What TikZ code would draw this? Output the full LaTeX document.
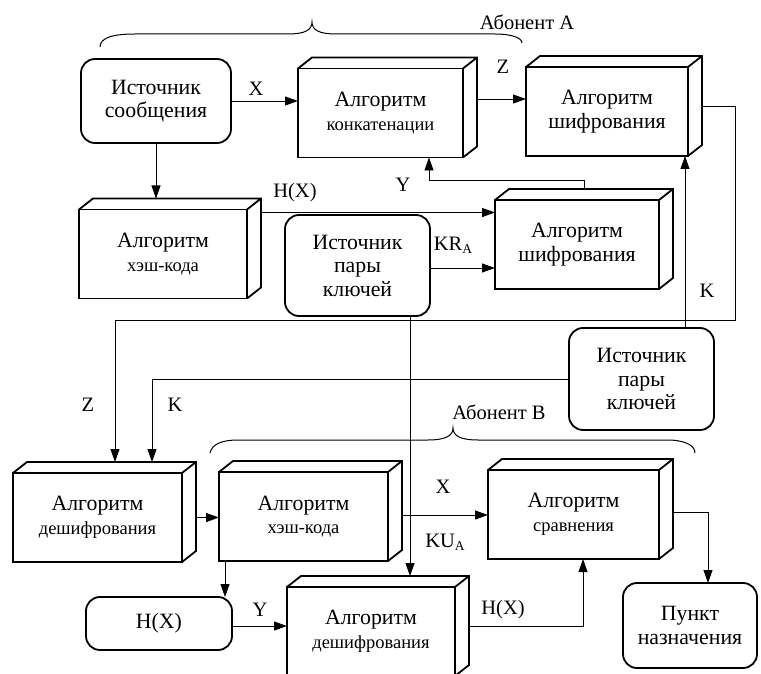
\documentclass[tikz,border=0pt]{standalone}
\usepackage{fontspec}
\setmainfont{Liberation Serif}
\usetikzlibrary{arrows.meta,calc}

\newcommand\boxfont{\fontsize{21.8}{23.5}\selectfont}
\newcommand\subfont{\fontsize{18.5}{21}\selectfont}
\newcommand\labfont{\fontsize{20.5}{22}\selectfont}
\newcommand\lowA{\raisebox{-0.35ex}{\fontsize{13.5}{13.5}\selectfont A}}

\def\dx{14}
\def\dy{11}

\tikzset{
  x=1pt, y=1pt,
  cube/.style={draw, line width=1.8pt, outer sep=0pt, inner sep=2pt,
    align=center, minimum height=89pt, font=\boxfont},
  face/.style={line width=1.8pt, line join=miter},
  rbox/.style={draw, line width=1.8pt, rounded corners=14pt, outer sep=0pt,
    inner sep=2pt, align=center, font=\boxfont},
  conn/.style={line width=0.9pt},
  arr/.style={conn, -{Triangle[length=13pt,width=9pt]}},
  lbl/.style={font=\labfont, inner sep=0pt},
  bracepath/.style={line width=1pt}
}

\begin{document}
\begin{tikzpicture}
\useasboundingbox (0,0) rectangle (761,-674);
\clip (0,0) rectangle (761,-674);

% --- blocks of subscriber A ---
\node[rbox, minimum width=150, minimum height=84] (src) at (156,-101) {Источник\\сообщения};
\node[cube, minimum width=165] (concat) at (380.5,-113) {Алгоритм\\\subfont конкатенации};
\node[cube, minimum width=162] (encA) at (607,-111.5) {Алгоритм\\шифрования};
\node[cube, minimum width=168] (hashA) at (163,-254) {Алгоритм\\\subfont хэш-кода};
\node[rbox, minimum width=145, minimum height=101] (keyA) at (357.5,-265.5) {Источник\\пары\\ключей};
\node[cube, minimum width=164] (encB) at (577,-244.5) {Алгоритм\\шифрования};
\node[rbox, minimum width=145, minimum height=102] (keyB) at (641.5,-379) {Источник\\пары\\ключей};

% --- blocks of subscriber B ---
\node[cube, minimum width=169] (decA) at (97.5,-517.5) {Алгоритм\\\subfont дешифрования};
\node[cube, minimum width=169] (hashB) at (303.5,-516.5) {Алгоритм\\\subfont хэш-кода};
\node[cube, minimum width=171] (cmp) at (573.5,-514.5) {Алгоритм\\\subfont сравнения};
\node[rbox, minimum width=146, minimum height=53] (hx) at (159,-623.5) {H(X)};
\node[cube, minimum width=168] (decB) at (371,-631.5) {Алгоритм\\\subfont дешифрования};
\node[rbox, minimum width=134, minimum height=85] (dest) at (690,-625.5) {Пункт\\назначения};

% top and side faces of the box-shaped blocks
\foreach \n in {concat,encA,hashA,encB,decA,hashB,cmp,decB}
  \draw[face] (\n.north west) -- ++(\dx,\dy) -- ($(\n.north east)+(\dx,\dy)$)
    -- ($(\n.south east)+(\dx,\dy)$) -- (\n.south east)
    (\n.north east) -- ++(\dx,\dy);

% tops of the back faces (arrow targets)
\coordinate (hashAtop) at ($(hashA.north)+(0,\dy)$);
\coordinate (decAtop) at ($(decA.north)+(0,\dy)$);
\coordinate (decBtop) at ($(decB.north)+(0,\dy)$);

% --- connectors, subscriber A ---
\draw[arr] (src.east) -- (src.east -| concat.west);
\node[lbl] (lx1) at (256,-89) {X};

\coordinate (z0) at ($(concat.east)+(\dx,14)$);
\draw[arr] (z0) -- (z0 -| encA.west);
\node[lbl] (lz1) at (503,-67) {Z};

\draw[arr] (src.south) -- (src.south |- hashAtop);

\coordinate (h0) at ($(hashA.north east)+(\dx,-3)$);
\draw[arr] (h0) -- (h0 -| encB.west);
\node[lbl] (lh1) at (295,-193) {H(X)};

\coordinate (kr0) at ($(keyA.east)+(0,-2.5)$);
\draw[arr] (kr0) -- (kr0 -| encB.west);
\node[lbl] (lkr) at (453,-245) {KR\lowA};

\coordinate (y0) at ($(encB.north)+(7,\dy)$);
\coordinate (ytip) at ($(concat.south)+(48.5,0)$);
\draw[arr] (y0) -- ++(0,9) -| (ytip);
\node[lbl] (ly1) at (403,-185) {Y};

\coordinate (k0) at ($(keyB.north)+(43.5,0)$);
\draw[arr] (k0) -- (k0 |- encA.south);
\node[lbl] (lk1) at (707,-291) {K};

% ciphertext Z to subscriber B
\coordinate (z1) at ($(encA.east)+(\dx,5.5)$);
\coordinate (zr) at (735,-320);
\coordinate (zl) at (115,-320);
\draw[arr] (z1) -- (z1 -| zr) -- (zr) -- (zl) -- (zl |- decAtop);
\node[lbl] (lz2) at (88,-405) {Z};

% key K to subscriber B
\coordinate (kx) at (152,-379);
\draw[arr] (keyB.west) -- (keyB.west -| kx) -- (kx |- decAtop);
\node[lbl] (lk2) at (175,-405) {K};

% public key KU_A
\coordinate (u0) at ($(keyA.south)+(52.5,0)$);
\draw[arr] (u0) -- (u0 |- decBtop);
\node[lbl] (lku) at (445,-542) {KU\lowA};

% --- connectors, subscriber B ---
\coordinate (d0) at ($(decA.east)+(\dx,0)$);
\draw[arr] (d0) -- (d0 -| hashB.west);

\coordinate (x0) at ($(hashB.east)+(\dx,1.5)$);
\draw[arr] (x0) -- (x0 -| cmp.west);
\node[lbl] (lx2) at (443,-487) {X};

\coordinate (c0) at ($(cmp.east)+(\dx,2.5)$);
\draw[arr] (c0) -| ($(dest.north)+(18,0)$);

\coordinate (b0) at ($(hashB.south west)+(6,0)$);
\draw[arr] (b0) -- (b0 |- hx.north);

\coordinate (hy0) at ($(hx.east)+(0,-2.5)$);
\draw[arr] (hy0) -- (hy0 -| decB.west);
\node[lbl] (ly2) at (260,-610) {Y};

\coordinate (e0) at ($(decB.east)+(\dx,5.5)$);
\draw[arr] (e0) -| ($(cmp.south)+(9.5,0)$);
\node[lbl] (lh2) at (503,-610) {H(X)};

% --- braces ---
\draw[bracepath] (100,-47) .. controls (100,-37) and (115,-34) .. (135,-34)
  -- (288,-34) .. controls (305,-34) and (312,-30) .. (312,-22)
  .. controls (312,-30) and (319,-34) .. (336,-34)
  -- (495,-34) .. controls (512,-34) and (522,-38) .. (522,-43);
\node[lbl] (abA) at (527,-22) {Абонент А};

\draw[bracepath] (210,-453) .. controls (212,-444) and (222,-440) .. (238,-440)
  -- (428,-440) .. controls (445,-440) and (453,-436) .. (453,-428)
  .. controls (453,-436) and (461,-440) .. (478,-440)
  -- (667,-440) .. controls (684,-440) and (695,-445) .. (695,-453);
\node[lbl] (abB) at (499,-412) {Абонент В};

\end{tikzpicture}
\end{document}
